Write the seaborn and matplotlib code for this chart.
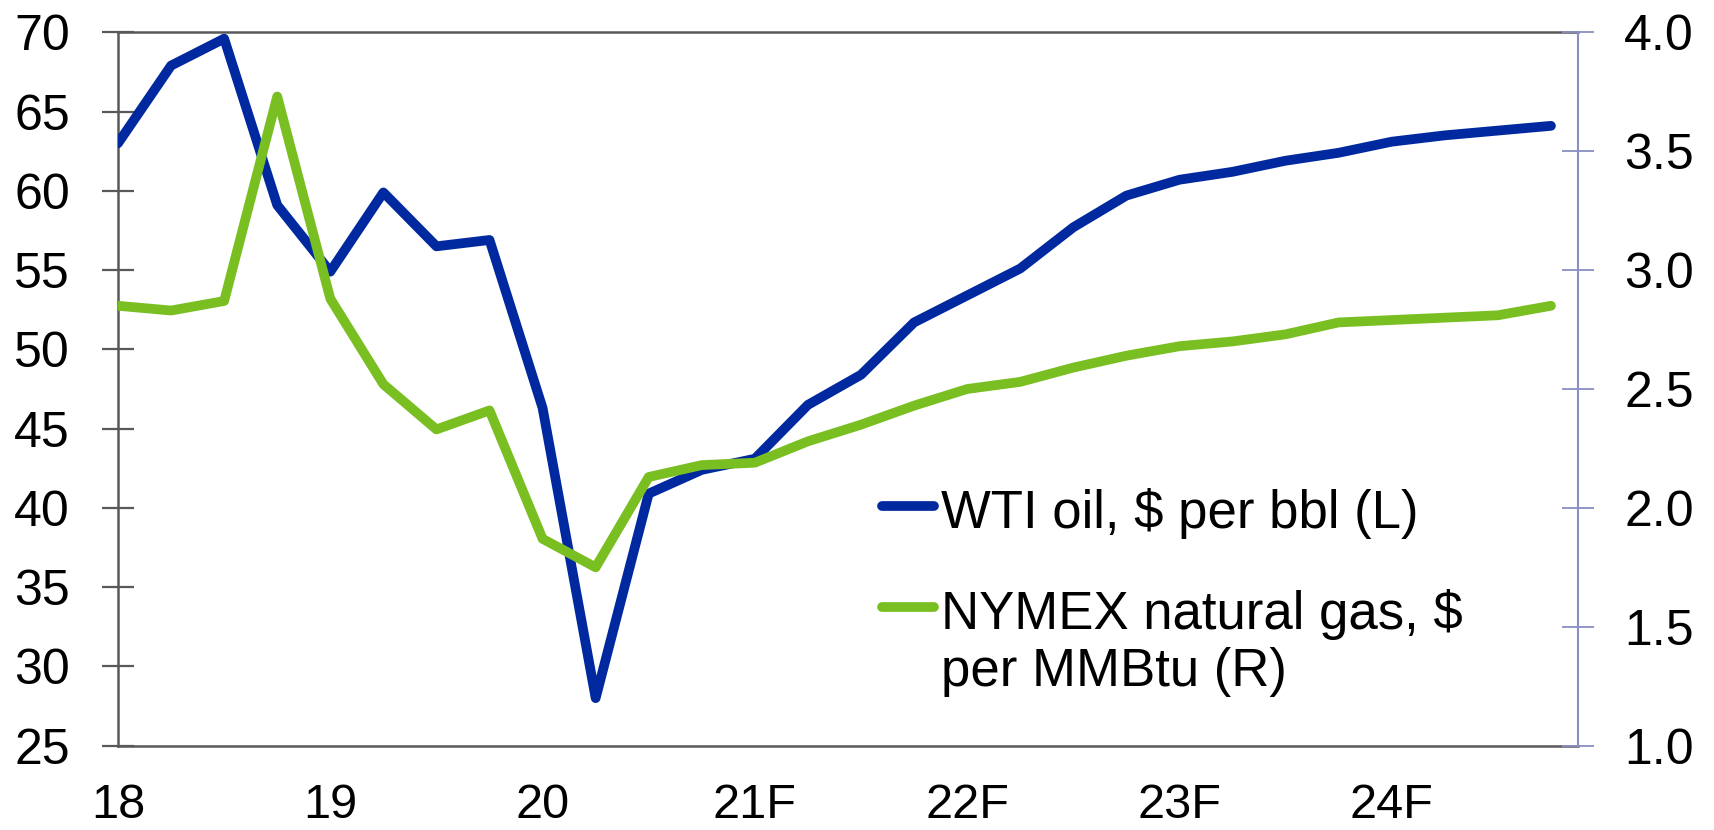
import numpy as np
import pandas as pd
import matplotlib
matplotlib.use('Agg')
import matplotlib.pyplot as plt
import seaborn as sns
from matplotlib.lines import Line2D

# Quarterly data, 2018Q1 .. 2024Q4 (F = forecast)
quarters = np.arange(28)
wti = [63.0, 67.9, 69.6, 59.1, 54.9, 59.9, 56.5, 56.9,
       46.3, 28.0, 40.9, 42.4, 43.1, 46.5, 48.4, 51.7,
       53.4, 55.1, 57.7, 59.7, 60.7, 61.2, 61.9, 62.4,
       63.1, 63.5, 63.8, 64.1]
gas = [2.85, 2.83, 2.87, 3.73, 2.88, 2.52, 2.33, 2.41,
       1.87, 1.75, 2.13, 2.18, 2.19, 2.28, 2.35, 2.43,
       2.50, 2.53, 2.59, 2.64, 2.68, 2.70, 2.73, 2.78,
       2.79, 2.80, 2.81, 2.85]
year_ticks = [18, 19, 20, 21, 22, 23, 24]
year_labels = ['18', '19', '20', '21F', '22F', '23F', '24F']

df = pd.DataFrame({'year': 18 + quarters / 4, 'wti': wti, 'gas': gas})

sns.set_style('white')
plt.rcParams['font.family'] = ['Liberation Sans', 'DejaVu Sans']
plt.rcParams['text.color'] = 'black'

blue = '#0029a0'
green = '#79bf22'
dark = '#595959'
lav = '#8a8fbf'
lw = 7

fig = plt.figure(figsize=(17.15, 8.30), dpi=100)
ax = fig.add_axes([118 / 1715, 1 - 745.7 / 830, 1459.7 / 1715, 713.4 / 830])
ax2 = ax.twinx()

sns.lineplot(data=df, x='year', y='wti', ax=ax, color=blue, lw=lw,
             solid_capstyle='round', solid_joinstyle='round', zorder=3)
sns.lineplot(data=df, x='year', y='gas', ax=ax2, color=green, lw=lw,
             solid_capstyle='round', solid_joinstyle='round', zorder=3)

ax.set_xlim(18, 24.876)
ax.set_ylim(25, 70)
ax2.set_ylim(1.0, 4.0)
ax.set_xticks(year_ticks)
ax.set_xticklabels(year_labels)
ax.set_yticks(np.arange(25, 71, 5))
ax2.set_yticks(np.arange(1.0, 4.01, 0.5))
ax2.set_yticklabels([f'{v:.1f}' for v in np.arange(1.0, 4.01, 0.5)])
for a in (ax, ax2):
    a.set_xlabel('')
    a.set_ylabel('')

ax.tick_params(axis='x', direction='inout', length=23, width=1.6, color=dark,
               labelsize=35, pad=15, labelcolor='black')
ax.tick_params(axis='y', direction='inout', length=23, width=1.6, color=dark,
               labelsize=36, pad=23, labelcolor='black', left=True)
ax2.tick_params(axis='y', direction='inout', length=23, width=1.3, color=lav,
                labelsize=36, pad=22, labelcolor='black', right=True)

for s in ('left', 'bottom', 'top'):
    ax.spines[s].set_color(dark)
    ax.spines[s].set_linewidth(1.8)
    ax2.spines[s].set_visible(False)
ax.spines['right'].set_visible(False)
ax2.spines['right'].set_color(lav)
ax2.spines['right'].set_linewidth(1.5)

# legend drawn by hand, first line of each label aligned with its swatch
fs = 38
for col, yc in ((blue, 506), (green, 607)):
    fig.add_artist(Line2D([882 / 1715, 934 / 1715], [1 - yc / 830] * 2,
                          color=col, lw=lw, solid_capstyle='round'))
fig.text(941 / 1715, 1 - 528 / 830, 'WTI oil, $ per bbl (L)', fontsize=fs,
         va='baseline', ha='left', color='black')
fig.text(941 / 1715, 1 - 629 / 830, 'NYMEX natural gas, $', fontsize=fs,
         va='baseline', ha='left', color='black')
fig.text(941 / 1715, 1 - 686 / 830, 'per MMBtu (R)', fontsize=fs,
         va='baseline', ha='left', color='black')

fig.savefig('out.png', dpi=100)
